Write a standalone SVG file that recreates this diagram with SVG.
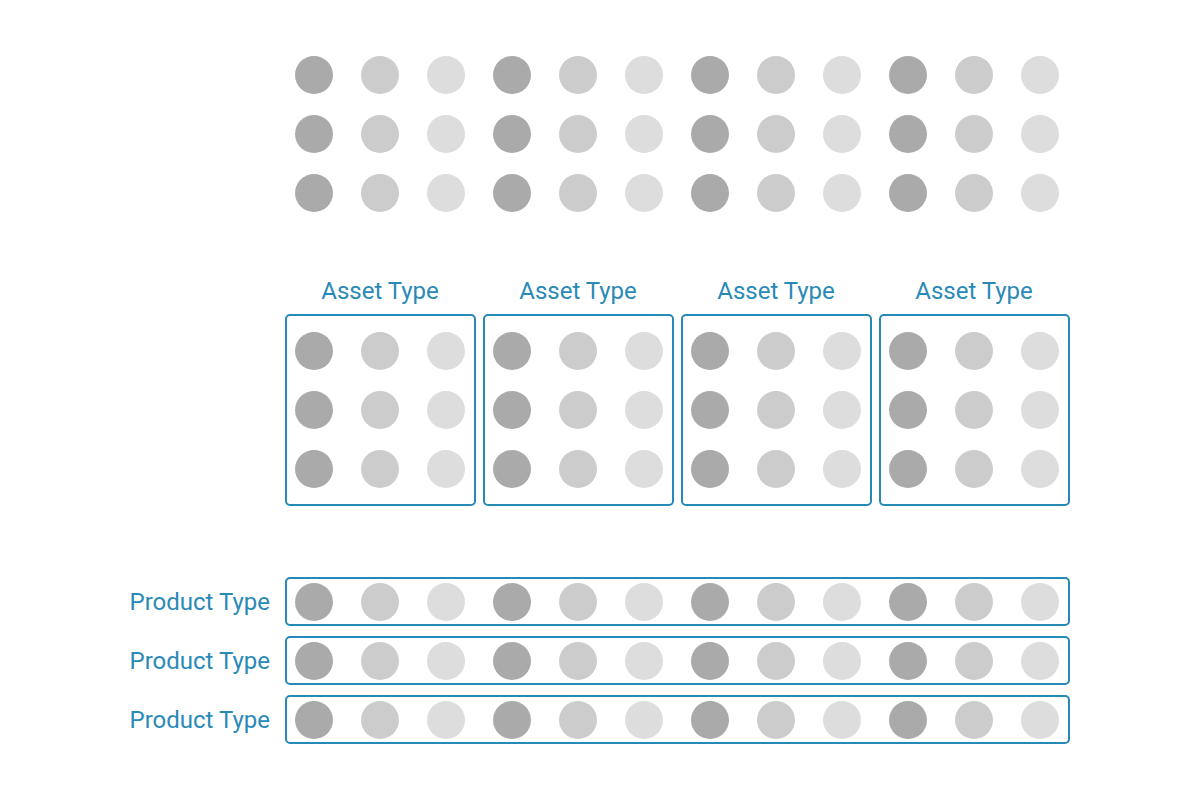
<svg xmlns="http://www.w3.org/2000/svg" width="1200" height="800" viewBox="0 0 1200 800">
<defs>
<style>
.a{fill:#aaaaaa}.b{fill:#cccccc}.c{fill:#dddddd}
.box{fill:none;stroke:#2689b6;stroke-width:2}
.lbl{font-family:Roboto,"Liberation Sans",sans-serif;font-size:24px;fill:#2a8ab7}
</style>
<g id="dots3">
<circle class="a" cx="0" cy="0" r="19"/><circle class="b" cx="66" cy="0" r="19"/><circle class="c" cx="132" cy="0" r="19"/>
</g>
<g id="col">
<use href="#dots3" y="0"/><use href="#dots3" y="59"/><use href="#dots3" y="118"/>
</g>
<g id="row">
<use href="#dots3" x="0"/><use href="#dots3" x="198"/><use href="#dots3" x="396"/><use href="#dots3" x="594"/>
</g>
</defs>
<rect width="1200" height="800" fill="#ffffff"/>
<g id="top-grid">
<use href="#col" x="314" y="75"/><use href="#col" x="512" y="75"/><use href="#col" x="710" y="75"/><use href="#col" x="908" y="75"/>
</g>
<g id="asset-1"><text class="lbl" x="380" y="299" text-anchor="middle">Asset Type</text><rect class="box" x="286" y="315" width="189" height="190" rx="4"/><use href="#col" x="314" y="351"/></g>
<g id="asset-2"><text class="lbl" x="578" y="299" text-anchor="middle">Asset Type</text><rect class="box" x="484" y="315" width="189" height="190" rx="4"/><use href="#col" x="512" y="351"/></g>
<g id="asset-3"><text class="lbl" x="776" y="299" text-anchor="middle">Asset Type</text><rect class="box" x="682" y="315" width="189" height="190" rx="4"/><use href="#col" x="710" y="351"/></g>
<g id="asset-4"><text class="lbl" x="974" y="299" text-anchor="middle">Asset Type</text><rect class="box" x="880" y="315" width="189" height="190" rx="4"/><use href="#col" x="908" y="351"/></g>
<g id="product-1"><text class="lbl" x="270" y="610" text-anchor="end">Product Type</text><rect class="box" x="286" y="578" width="783" height="47" rx="4"/><use href="#row" x="314" y="602"/></g>
<g id="product-2"><text class="lbl" x="270" y="669" text-anchor="end">Product Type</text><rect class="box" x="286" y="637" width="783" height="47" rx="4"/><use href="#row" x="314" y="661"/></g>
<g id="product-3"><text class="lbl" x="270" y="728" text-anchor="end">Product Type</text><rect class="box" x="286" y="696" width="783" height="47" rx="4"/><use href="#row" x="314" y="720"/></g>
<g id="connectors"/>
</svg>
